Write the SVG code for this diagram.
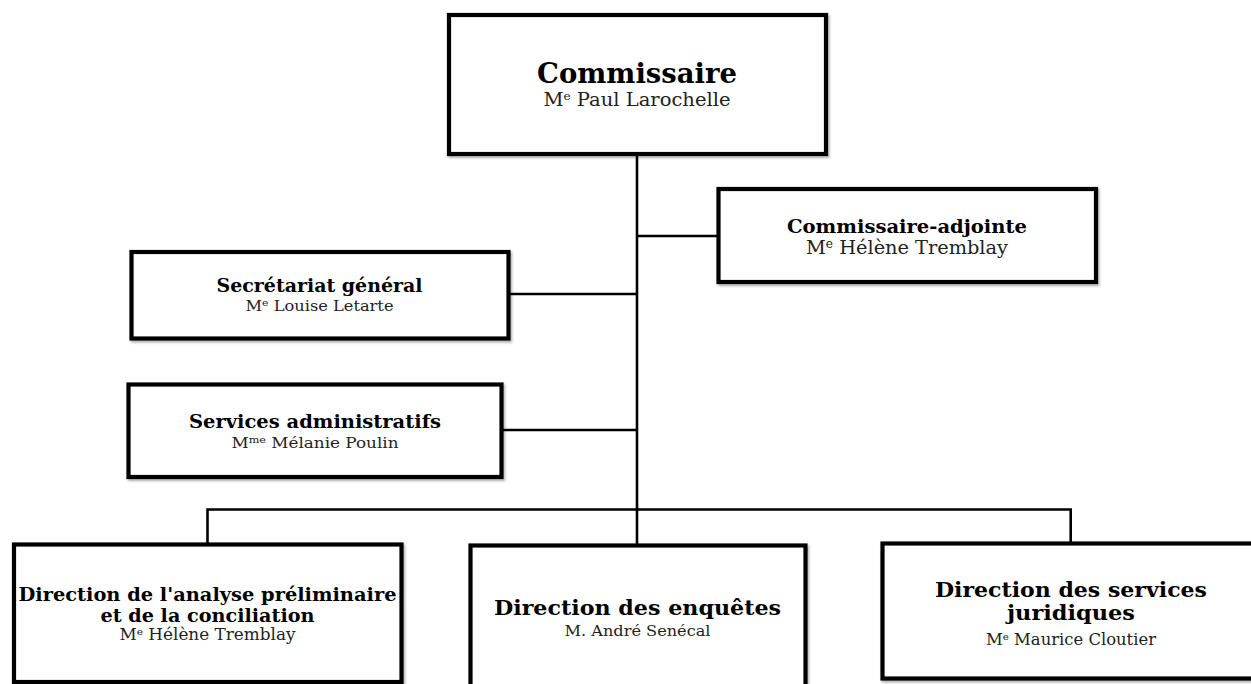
<svg xmlns="http://www.w3.org/2000/svg" width="1251" height="684" viewBox="0 0 1251 684">
<style>
.box{fill:#fff;stroke:#000;stroke-width:4.2;filter:url(#sh)}
.ln{stroke:#000;stroke-width:2.6;fill:none}
text{font-family:"DejaVu Serif","Liberation Serif",serif;text-anchor:middle}
.t{font-weight:bold;fill:#000}
.s{fill:#222}
</style>
<defs>
<filter id="sh" x="-5%" y="-5%" width="110%" height="115%">
<feDropShadow dx="1.5" dy="2" stdDeviation="1.2" flood-color="#000" flood-opacity="0.3"/>
</filter>
</defs>
<rect width="1251" height="684" fill="#fff"/>
<g id="connectors">
<path class="ln" d="M637 154V546"/>
<path class="ln" d="M637 236H718"/>
<path class="ln" d="M508 294H637"/>
<path class="ln" d="M501 430H637"/>
<path class="ln" d="M207.5 545V509.5H1070.7V544"/>
</g>
<g id="commissaire">
<rect class="box" x="449" y="15" width="377" height="139"/>
<text class="t" x="637" y="83" font-size="28" textLength="200" lengthAdjust="spacingAndGlyphs">Commissaire</text>
<text class="s" x="637" y="106" font-size="18" textLength="187" lengthAdjust="spacingAndGlyphs">M<tspan font-size="11" baseline-shift="6">e</tspan> Paul Larochelle</text>
</g>
<g id="adjointe">
<rect class="box" x="718.5" y="189" width="377.5" height="93"/>
<text class="t" x="907" y="233" font-size="19" textLength="240" lengthAdjust="spacingAndGlyphs">Commissaire-adjointe</text>
<text class="s" x="907" y="254" font-size="19" textLength="202" lengthAdjust="spacingAndGlyphs">M<tspan font-size="12" baseline-shift="6">e</tspan> Hélène Tremblay</text>
</g>
<g id="secretariat">
<rect class="box" x="131.5" y="252" width="377" height="86.5"/>
<text class="t" x="319.5" y="292" font-size="19" textLength="206" lengthAdjust="spacingAndGlyphs">Secrétariat général</text>
<text class="s" x="319.5" y="311" font-size="15" textLength="148" lengthAdjust="spacingAndGlyphs">M<tspan font-size="10" baseline-shift="5">e</tspan> Louise Letarte</text>
</g>
<g id="services">
<rect class="box" x="128.5" y="384.5" width="373" height="92.5"/>
<text class="t" x="315" y="428" font-size="19" textLength="252" lengthAdjust="spacingAndGlyphs">Services administratifs</text>
<text class="s" x="315" y="448" font-size="15" textLength="167" lengthAdjust="spacingAndGlyphs">M<tspan font-size="10" baseline-shift="5">me</tspan> Mélanie Poulin</text>
</g>
<g id="analyse">
<rect class="box" x="14" y="544.5" width="387.5" height="137.5"/>
<text class="t" x="207.5" y="601" font-size="19" textLength="378" lengthAdjust="spacingAndGlyphs">Direction de l'analyse préliminaire</text>
<text class="t" x="207.5" y="622" font-size="19" textLength="214" lengthAdjust="spacingAndGlyphs">et de la conciliation</text>
<text class="s" x="207.5" y="640" font-size="16" textLength="176" lengthAdjust="spacingAndGlyphs">M<tspan font-size="10" baseline-shift="5">e</tspan> Hélène Tremblay</text>
</g>
<g id="enquetes">
<rect class="box" x="470.5" y="545.5" width="335" height="200"/>
<text class="t" x="637.5" y="615" font-size="20" textLength="287" lengthAdjust="spacingAndGlyphs">Direction des enquêtes</text>
<text class="s" x="637.5" y="636" font-size="15" textLength="146" lengthAdjust="spacingAndGlyphs">M. André Senécal</text>
</g>
<g id="juridiques">
<rect class="box" x="882.5" y="543.5" width="380" height="135"/>
<text class="t" x="1071" y="597" font-size="20" textLength="272" lengthAdjust="spacingAndGlyphs">Direction des services</text>
<text class="t" x="1071" y="620" font-size="20" textLength="128" lengthAdjust="spacingAndGlyphs">juridiques</text>
<text class="s" x="1071" y="645" font-size="16" textLength="170" lengthAdjust="spacingAndGlyphs">M<tspan font-size="10" baseline-shift="5">e</tspan> Maurice Cloutier</text>
</g>
</svg>
